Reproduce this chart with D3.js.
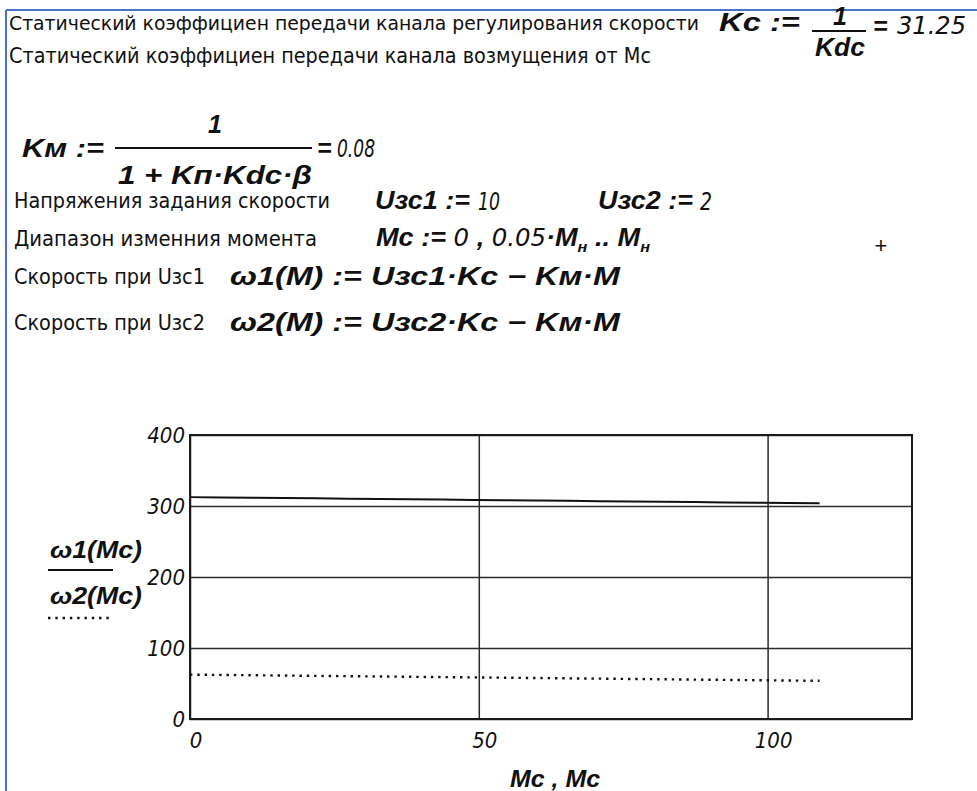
<!DOCTYPE html>
<html>
<head>
<meta charset="utf-8">
<script src="https://cdn.jsdelivr.net/npm/d3@7"></script>
<style>
  body { margin: 0; background: #fff; }
  .ru   { font-family: "DejaVu Sans", sans-serif; font-stretch: condensed; font-size: 22px; fill: #111; }
  .math { font-family: "Liberation Sans", Arial, sans-serif; font-style: italic; font-weight: bold; font-size: 25px; fill: #111; }
  .num  { font-family: "DejaVu Sans", sans-serif; font-stretch: condensed; font-style: italic; font-weight: normal; font-size: 25px; fill: #111; }
  .tick-label { font-family: "DejaVu Sans", sans-serif; font-stretch: condensed; font-style: italic; font-size: 22px; fill: #111; }
</style>
</head>
<body>
<svg id="sheet" width="977" height="791"></svg>
<script>
// Load torque Mc (0 .. Mн in steps of 0.05·Mн) and the two speed curves
const torque = [0, 5.45, 10.9, 16.35, 21.8, 27.25, 32.7, 38.15, 43.6, 49.05, 54.5,
                59.95, 65.4, 70.85, 76.3, 81.75, 87.2, 92.65, 98.1, 103.55, 109];
const omega1 = [312.5, 312.06, 311.63, 311.19, 310.76, 310.32, 309.88, 309.45, 309.01, 308.58, 308.14,
                307.7, 307.27, 306.83, 306.4, 305.96, 305.52, 305.09, 304.65, 304.22, 303.78];
const omega2 = [62.5, 62.06, 61.63, 61.19, 60.76, 60.32, 59.88, 59.45, 59.01, 58.58, 58.14,
                57.7, 57.27, 56.83, 56.4, 55.96, 55.52, 55.09, 54.65, 54.22, 53.78];

const xTicks = [0, 50, 100];
const yTicks = [0, 100, 200, 300, 400];
const xDomain = [0, 125];
const yDomain = [0, 400];

const svg = d3.select("#sheet");

// worksheet region edge
svg.append("line").attr("x1", 6).attr("y1", 10).attr("x2", 977).attr("y2", 10)
  .attr("stroke", "#4a72c6").attr("stroke-width", 2);
svg.append("line").attr("x1", 6).attr("y1", 10).attr("x2", 6).attr("y2", 791)
  .attr("stroke", "#4a72c6").attr("stroke-width", 2);

// plain Russian captions, fitted to their width
function caption(x, y, s, w, size) {
  const t = svg.append("text").attr("class", "ru").attr("x", x).attr("y", y)
    .attr("textLength", w).attr("lengthAdjust", "spacingAndGlyphs").text(s);
  if (size) t.style("font-size", size + "px");
  return t;
}

// formula made of styled runs: [text, cls, dy]
function formula(x, y, runs, opts = {}) {
  const t = svg.append("text").attr("x", x).attr("y", y).attr("class", "math");
  if (opts.anchor) t.attr("text-anchor", opts.anchor);
  if (opts.size) t.style("font-size", opts.size + "px");
  if (opts.width) t.attr("textLength", opts.width).attr("lengthAdjust", "spacingAndGlyphs");
  runs.forEach(r => {
    const ts = t.append("tspan").text(r[0]);
    if (r[1] === "num") ts.attr("class", "num");
    if (r[1] === "sub") ts.style("font-size", "15px");
    if (r[2]) ts.attr("dy", r[2]);
  });
  return t;
}

// plain number in the worksheet's numeric style
function number(x, y, s, w) {
  return svg.append("text").attr("class", "num").attr("x", x).attr("y", y)
    .attr("textLength", w).attr("lengthAdjust", "spacingAndGlyphs").text(s);
}

function bar(x1, x2, yy) {
  svg.append("line").attr("x1", x1).attr("x2", x2).attr("y1", yy).attr("y2", yy)
    .attr("stroke", "#111").attr("stroke-width", 1.8);
}

// Kc row
caption(9, 30, "Статический коэффициен передачи канала регулирования скорости", 690, 20);
formula(719, 31, [["Kc :="]], { width: 81 });
formula(840, 25, [["1"]], { anchor: "middle" });
bar(812, 866, 31);
formula(840, 56, [["Kdc"]], { anchor: "middle", width: 50 });
formula(873, 35, [["="]]);
number(897, 34, "31.25", 69);

// Km row
caption(9, 63, "Статический коэффициен передачи канала возмущения от Мс", 642, 21);
formula(22, 157, [["Kм :="]], { width: 82 });
formula(215, 133, [["1"]], { anchor: "middle" });
bar(115, 312, 148);
formula(118, 184, [["1 + Kп·Kdc·β"]], { width: 194 });
formula(317, 157, [["="]]);
number(337, 157, "0.08", 38);

// reference voltages
caption(14, 208, "Напряжения задания скорости", 316);
formula(375, 209, [["Uзс1 :="]], { width: 95 });
number(478, 210, "10", 22);
formula(598, 209, [["Uзс2 :="]], { width: 95 });
number(700, 210, "2", 12);

// torque range
caption(14, 246, "Диапазон изменния момента", 303);
formula(376, 246, [["Mc := "], ["0", "num"], [" , "], ["0.05", "num"], ["·M"], ["н", "sub", 6], [" .. M", null, -6], ["н", "sub", 6]], { width: 274 });
svg.append("text").attr("x", 881).attr("y", 253).attr("text-anchor", "middle")
  .style("font-family", "Liberation Sans").style("font-size", "22px").style("fill", "#111").text("+");

// speed expressions
caption(14, 284, "Скорость при Uзс1", 191);
formula(230, 285, [["ω1(M) := Uзс1·Kc − Kм·M"]], { width: 390 });
caption(14, 330, "Скорость при Uзс2", 191);
formula(230, 331, [["ω2(M) := Uзс2·Kc − Kм·M"]], { width: 390 });

// ---- plot ----
const pLeft = 190, pRight = 912, pTop = 435, pBottom = 719;
const x = d3.scaleLinear().domain(xDomain).range([pLeft, pRight]);
const y = d3.scaleLinear().domain(yDomain).range([pBottom, pTop]);

// grid via axes with full-length ticks
const gy = svg.append("g").attr("transform", `translate(${pLeft},0)`)
  .call(d3.axisLeft(y).tickValues(yTicks).tickSize(-(pRight - pLeft)).tickFormat(""));
gy.select(".domain").remove();
gy.selectAll(".tick line").attr("stroke", "#2a2a2a").attr("stroke-width", 1.5);

const gx = svg.append("g").attr("transform", `translate(0,${pBottom})`)
  .call(d3.axisBottom(x).tickValues(xTicks).tickSize(-(pBottom - pTop)).tickFormat(""));
gx.select(".domain").remove();
gx.selectAll(".tick line").attr("stroke", "#2a2a2a").attr("stroke-width", 1.5);

// frame
svg.append("rect").attr("x", pLeft).attr("y", pTop).attr("width", pRight - pLeft).attr("height", pBottom - pTop)
  .attr("fill", "none").attr("stroke", "#1a1a1a").attr("stroke-width", 2);

// tick labels
svg.selectAll(".ylab").data(yTicks).enter().append("text")
  .attr("class", "tick-label").attr("text-anchor", "end")
  .attr("x", pLeft - 5).attr("y", d => y(d) + 8).text(d => d);
svg.selectAll(".xlab").data(xTicks).enter().append("text")
  .attr("class", "tick-label").attr("text-anchor", "middle")
  .attr("x", d => x(d) + 6).attr("y", 748).text(d => d);

// series
const pts1 = torque.map((m, i) => [m, omega1[i]]);
const pts2 = torque.map((m, i) => [m, omega2[i]]);
const line = d3.line().x(d => x(d[0])).y(d => y(d[1]));
svg.append("path").attr("d", line(pts1)).attr("fill", "none")
  .attr("stroke", "#111").attr("stroke-width", 2);
svg.append("path").attr("d", line(pts2)).attr("fill", "none")
  .attr("stroke", "#111").attr("stroke-width", 2.4).attr("stroke-dasharray", "2.4,4.9");

// y-axis legend
formula(50, 558, [["ω1(Mc)"]], { width: 92, size: 23 });
svg.append("line").attr("x1", 48).attr("x2", 113).attr("y1", 570).attr("y2", 570)
  .attr("stroke", "#111").attr("stroke-width", 2);
formula(50, 604, [["ω2(Mc)"]], { width: 92, size: 23 });
svg.append("line").attr("x1", 48).attr("x2", 112).attr("y1", 618).attr("y2", 618)
  .attr("stroke", "#111").attr("stroke-width", 2.4).attr("stroke-dasharray", "2.4,4.9");

// x-axis title
formula(510, 787, [["Mc , Mc"]], { width: 90, size: 23 });
</script>
</body>
</html>
